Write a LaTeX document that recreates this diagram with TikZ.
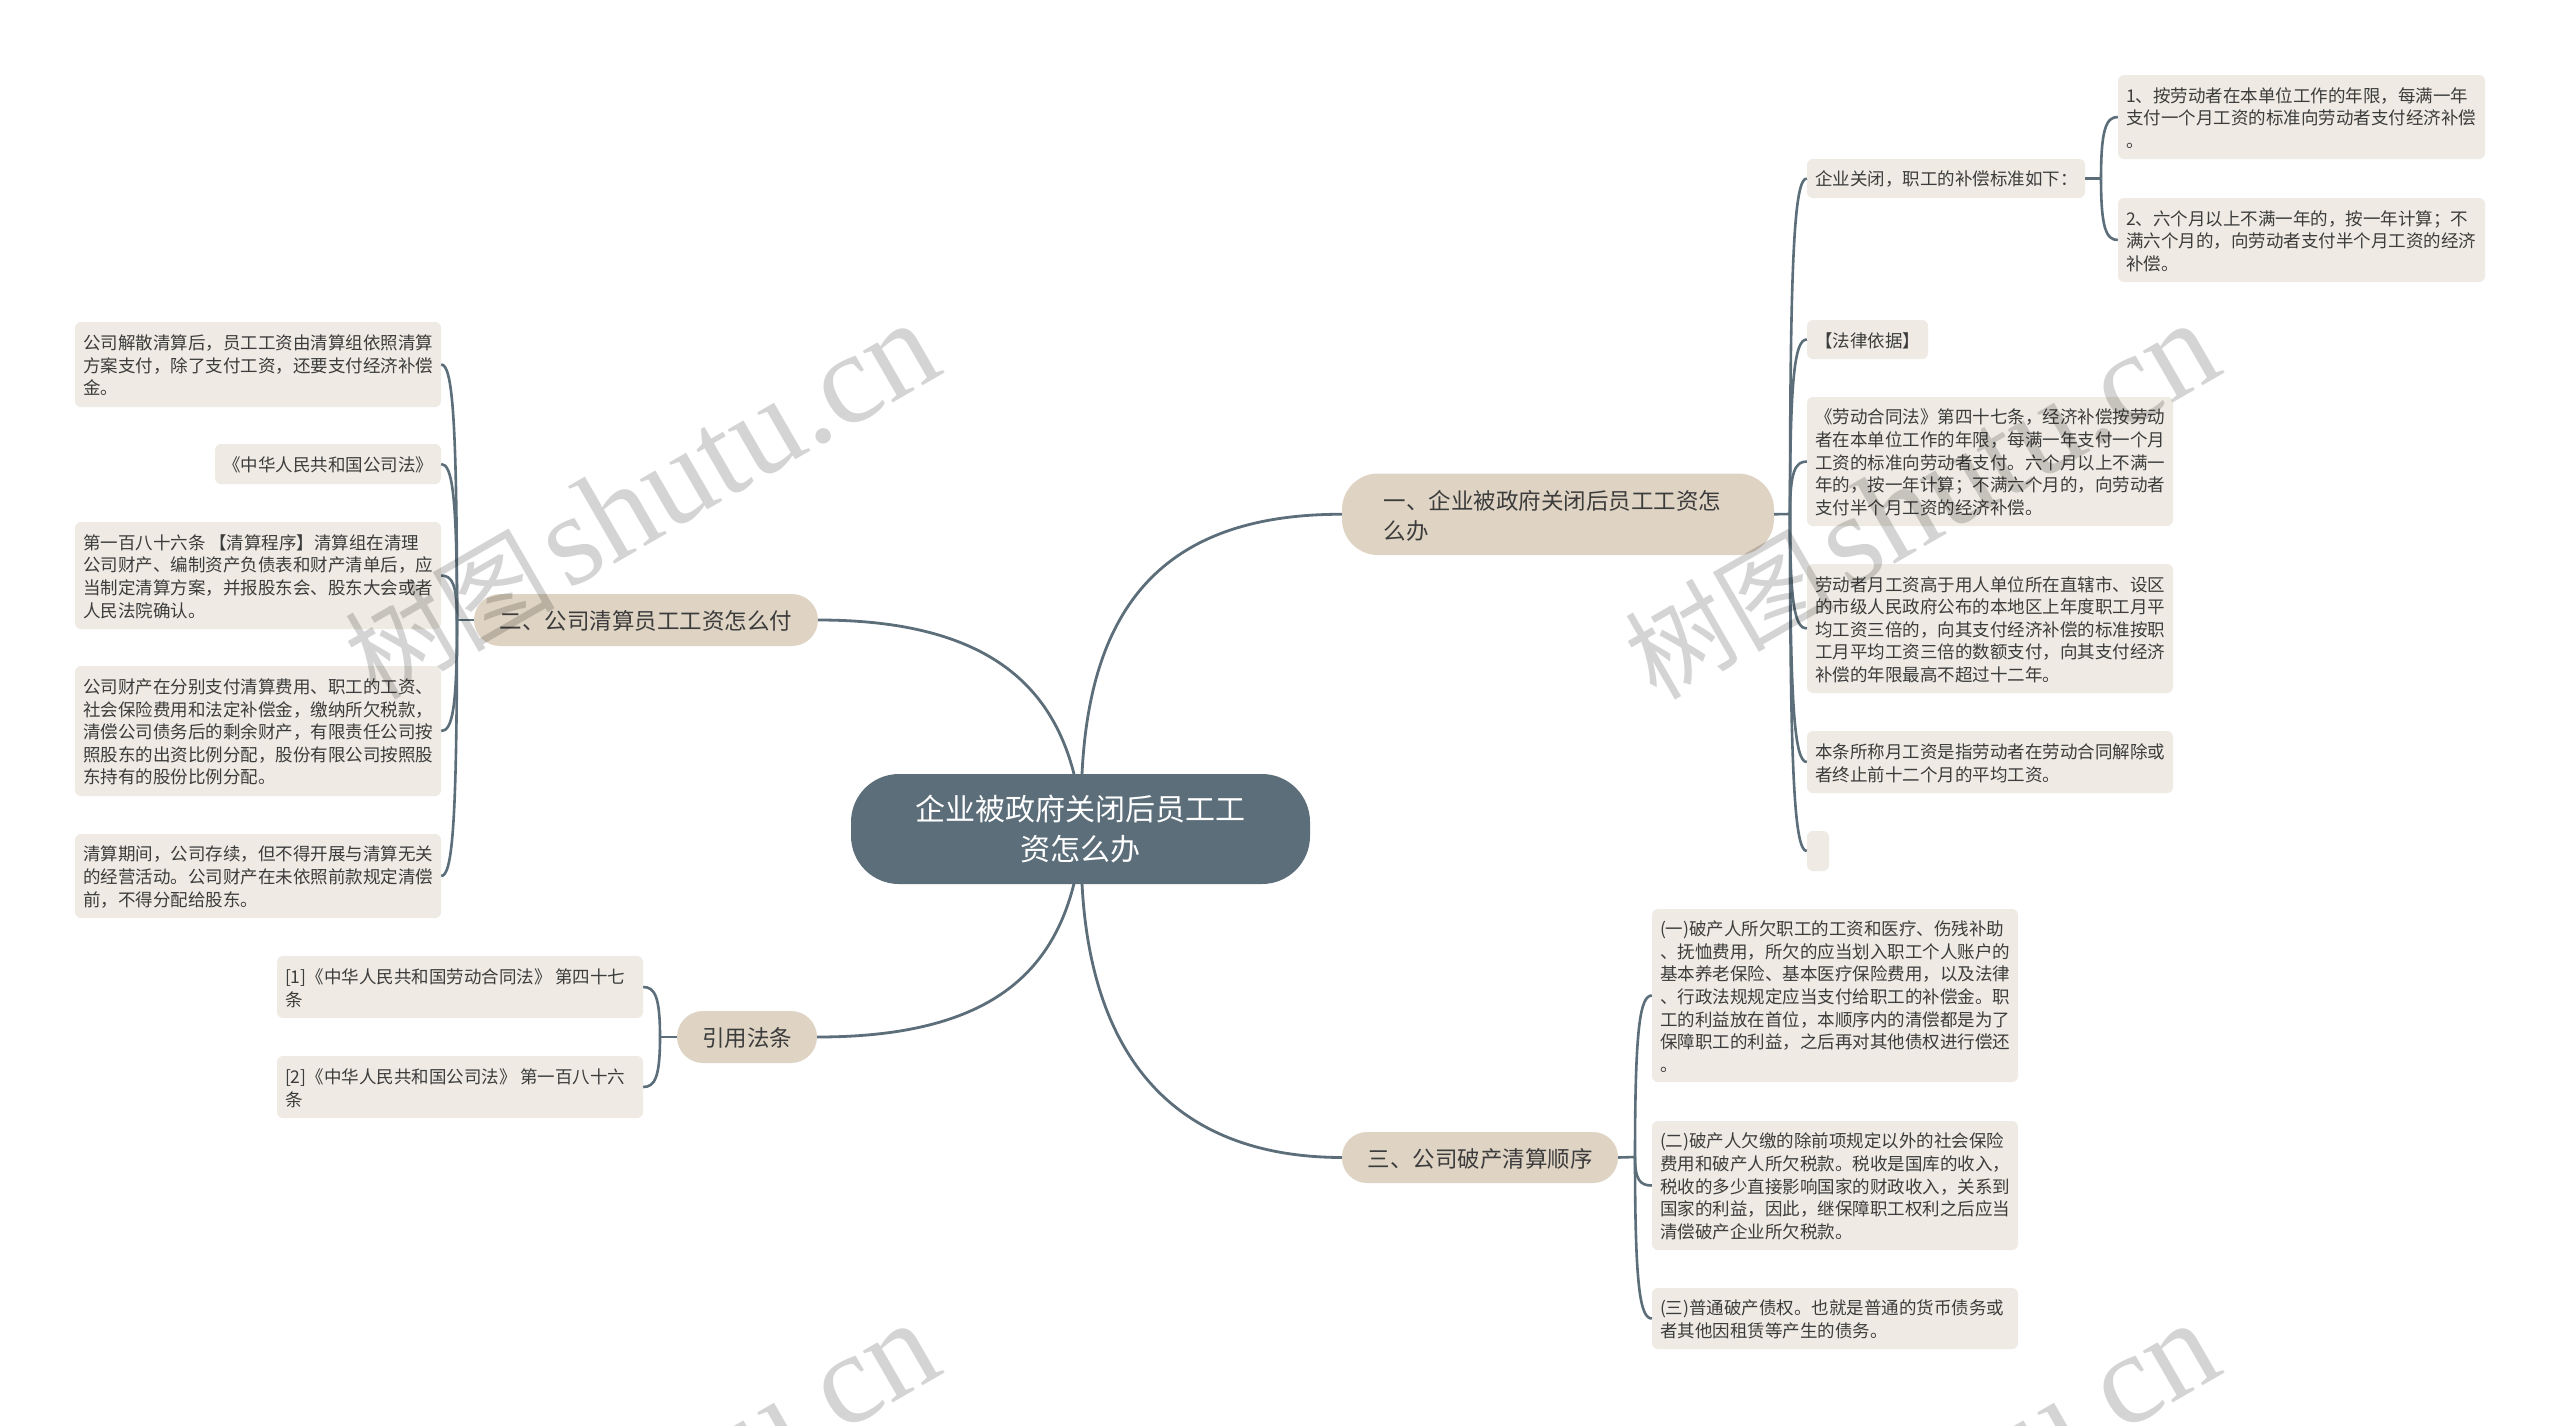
\documentclass[tikz,border=0pt]{standalone}
\usepackage{fontspec}
\usetikzlibrary{calc}
\setmainfont{Noto Sans CJK SC}
\newfontfamily\wmcjk{Noto Sans CJK SC}
\newfontfamily\wmlat{Liberation Serif}
\definecolor{linec}{HTML}{5B6E7A}
\definecolor{rootc}{HTML}{5B6E7A}
\definecolor{branchc}{HTML}{DFD4C4}
\definecolor{leafc}{HTML}{EFEBE4}
\definecolor{textc}{HTML}{3C3C3C}
\definecolor{markc}{HTML}{000000}
\tikzset{
  x=1pt,y=-1pt,
  leaf/.style={fill=leafc,rounded corners=6pt,inner sep=0pt,text=textc,font=\fontsize{17.5}{22.6}\selectfont},
  branch/.style={fill=branchc,inner sep=0pt,text=textc,font=\fontsize{22.5}{30}\selectfont},
  rootbox/.style={fill=rootc,inner sep=0pt,text=white,align=center,rounded corners=48pt,font=\fontsize{30}{40}\selectfont},
  conn/.style={draw=linec,line width=2.6pt},
  mainconn/.style={draw=linec,line width=2.8pt},
  wm/.style={text=markc,opacity=0.17,text opacity=0.17,rotate=30,inner sep=0pt,anchor=base east},
}
\newcommand\wmtext{{\wmcjk\fontsize{105}{105}\selectfont 树图}\hspace{12pt}{\wmlat\fontsize{130}{130}\selectfont shutu.cn}}
\newcommand\leafbox[6]{%
  \pgfmathsetmacro\bw{#4-#2}\pgfmathsetmacro\bh{#5-#3}\pgfmathsetmacro\tw{max(#4-#2-16,1)}%
  \node[leaf,minimum width=\bw pt,minimum height=\bh pt] (#1) at ({(#2+#4)/2},{(#3+#5)/2})
    {\raisebox{-1pt}[\height][\depth]{\parbox{\tw pt}{\raggedright #6}}};}
\newcommand\branchbox[7]{%
  \pgfmathsetmacro\bw{#4-#2}\pgfmathsetmacro\bh{#5-#3}%
  \node[branch,rounded corners=#6pt,minimum width=\bw pt,minimum height=\bh pt] (#1) at ({(#2+#4)/2},{(#3+#5)/2})
    {\raisebox{-1pt}[\height][\depth]{#7}};}
\newcommand\tie[2]{%
  \draw[conn] (#1) .. controls ($(#1)!0.8!(#1|-#2)$) and ($(#1|-#2)!0.3!(#2)$) .. (#2);}
\begin{document}
\begin{tikzpicture}
\useasboundingbox (0,0) rectangle (2560,1425);
\clip (0,0) rectangle (2560,1425);
\fill[white] (0,0) rectangle (2560,1425);

% root and branches
\node[rootbox,minimum width=459pt,minimum height=110pt,text width=400pt] (root) at (1080.5,829) {企业被政府关闭后员工工\\资怎么办};
\branchbox{b1}{1342}{473.5}{1774}{555}{36}{\raisebox{-0.8pt}[\height][\depth]{\parbox{349pt}{\raggedright 一、企业被政府关闭后员工工资怎\\么办}}}
\branchbox{b2}{474}{594}{818}{646}{26}{二、公司清算员工工资怎么付}
\branchbox{b3}{1342}{1132}{1618}{1183}{25}{三、公司破产清算顺序}
\branchbox{b4}{677}{1011}{817}{1063}{26}{引用法条}

% leaves of branch one
\leafbox{a}{1807}{159}{2085}{198}{企业关闭，职工的补偿标准如下：}
\leafbox{a1}{2118}{75}{2485}{159}{1、按劳动者在本单位工作的年限，每满一年\\支付一个月工资的标准向劳动者支付经济补偿\\。}
\leafbox{a2}{2118}{198}{2485}{282}{2、六个月以上不满一年的，按一年计算；不\\满六个月的，向劳动者支付半个月工资的经济\\补偿。}
\leafbox{l2}{1807}{320}{1928}{359}{【法律依据】}
\leafbox{l3}{1807}{397}{2173}{526}{《劳动合同法》第四十七条，经济补偿按劳动\\者在本单位工作的年限，每满一年支付一个月\\工资的标准向劳动者支付。六个月以上不满一\\年的，按一年计算；不满六个月的，向劳动者\\支付半个月工资的经济补偿。}
\leafbox{l4}{1807}{564}{2173}{693}{劳动者月工资高于用人单位所在直辖市、设区\\的市级人民政府公布的本地区上年度职工月平\\均工资三倍的，向其支付经济补偿的标准按职\\工月平均工资三倍的数额支付，向其支付经济\\补偿的年限最高不超过十二年。}
\leafbox{l5}{1807}{731}{2173}{793}{本条所称月工资是指劳动者在劳动合同解除或\\者终止前十二个月的平均工资。}
\leafbox{l6}{1807}{831}{1829}{871}{}

% leaves of branch three
\leafbox{c1}{1652}{909}{2018}{1082}{(一)破产人所欠职工的工资和医疗、伤残补助\\、抚恤费用，所欠的应当划入职工个人账户的\\基本养老保险、基本医疗保险费用，以及法律\\、行政法规规定应当支付给职工的补偿金。职\\工的利益放在首位，本顺序内的清偿都是为了\\保障职工的利益，之后再对其他债权进行偿还\\。}
\leafbox{c2}{1652}{1121}{2018}{1250}{(二)破产人欠缴的除前项规定以外的社会保险\\费用和破产人所欠税款。税收是国库的收入，\\税收的多少直接影响国家的财政收入，关系到\\国家的利益，因此，继保障职工权利之后应当\\清偿破产企业所欠税款。}
\leafbox{c3}{1652}{1288}{2018}{1349}{(三)普通破产债权。也就是普通的货币债务或\\者其他因租赁等产生的债务。}

% leaves of branch two
\leafbox{d1}{75}{322}{441}{407}{公司解散清算后，员工工资由清算组依照清算\\方案支付，除了支付工资，还要支付经济补偿\\金。}
\leafbox{d2}{215}{444}{441}{484}{《中华人民共和国公司法》}
\leafbox{d3}{75}{522}{441}{629}{第一百八十六条 【清算程序】清算组在清理\\公司财产、编制资产负债表和财产清单后，应\\当制定清算方案，并报股东会、股东大会或者\\人民法院确认。}
\leafbox{d4}{75}{666}{441}{796}{公司财产在分别支付清算费用、职工的工资、\\社会保险费用和法定补偿金，缴纳所欠税款，\\清偿公司债务后的剩余财产，有限责任公司按\\照股东的出资比例分配，股份有限公司按照股\\东持有的股份比例分配。}
\leafbox{d5}{75}{834}{441}{918}{清算期间，公司存续，但不得开展与清算无关\\的经营活动。公司财产在未依照前款规定清偿\\前，不得分配给股东。}

% leaves of branch four
\leafbox{e1}{277}{956}{643}{1018}{[1]《中华人民共和国劳动合同法》 第四十七\\条}
\leafbox{e2}{277}{1056}{643}{1118}{[2]《中华人民共和国公司法》 第一百八十六\\条}

% main connectors
\coordinate (r1) at (1082,774);
\coordinate (r2) at (1074,774);
\coordinate (r3) at (1074,883.5);
\coordinate (r4) at (1082,883.5);
\draw[mainconn] (r1) .. controls (1090,610) and (1160,514) .. (b1.west);
\draw[mainconn] (r2) .. controls (1050,680) and (980,620) .. (b2.east);
\draw[mainconn] (r3) .. controls (1050,980) and (980,1037) .. (b4.east);
\draw[mainconn] (r4) .. controls (1090,1040) and (1160,1157) .. (b3.west);

% trunks
\coordinate (t1) at (1790,514);
\coordinate (t1a) at (2101,178.5);
\coordinate (t2) at (457,620);
\coordinate (t3) at (1635,1157);
\coordinate (t4) at (660,1037);
\draw[conn] (b1.east) -- (t1);
\draw[conn] (a.east) -- (t1a);
\draw[conn] (b2.west) -- (t2);
\draw[conn] (b3.east) -- (t3);
\draw[conn] (b4.west) -- (t4);
\tie{t1}{a.west}
\tie{t1}{l2.west}
\tie{t1}{l3.west}
\tie{t1}{l4.west}
\tie{t1}{l5.west}
\tie{t1}{l6.west}
\tie{t1a}{a1.west}
\tie{t1a}{a2.west}
\tie{t2}{d1.east}
\tie{t2}{d2.east}
\tie{t2}{d3.east}
\tie{t2}{d4.east}
\tie{t2}{d5.east}
\tie{t3}{c1.west}
\tie{t3}{c2.west}
\tie{t3}{c3.west}
\tie{t4}{e1.east}
\tie{t4}{e2.east}

% watermarks
\node[wm] (w1) at (947,372) {\wmtext};
\node[wm] (w2) at (2227,372) {\wmtext};
\node[wm] (w3) at (947,1372) {\wmtext};
\node[wm] (w4) at (2227,1372) {\wmtext};
\end{tikzpicture}
\end{document}
